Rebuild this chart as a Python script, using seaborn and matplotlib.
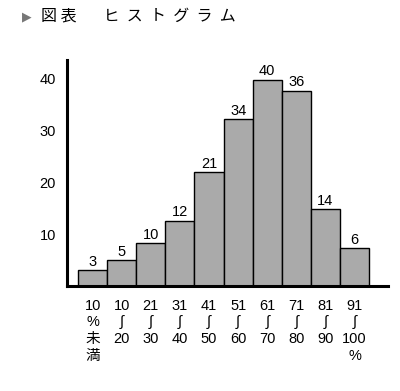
import matplotlib
matplotlib.use("Agg")
import matplotlib.pyplot as plt
import seaborn as sns
import pandas as pd

# data
categories = ["10\n%\n未\n満", "10\n∫\n20", "21\n∫\n30", "31\n∫\n40", "41\n∫\n50",
              "51\n∫\n60", "61\n∫\n70", "71\n∫\n80", "81\n∫\n90", "91\n∫\n100\n%"]
heights = [3.1, 5.0, 8.3, 12.6, 21.9, 32.1, 39.7, 37.6, 14.8, 7.3]
counts = [3, 5, 10, 12, 21, 34, 40, 36, 14, 6]
yticks = [10, 20, 30, 40]
title_mark = "▶"
title = "図 表\u3000   ヒ  ス  ト  グ  ラ  ム"

sns.set_theme(style="white")
fam = ["Liberation Sans", "DejaVu Sans", "Noto Sans CJK JP"]
plt.rcParams["font.family"] = fam

df = pd.DataFrame({"cat": categories, "h": heights})

fig = plt.figure(figsize=(4.0, 3.91), dpi=100)
ax = fig.add_axes([0.1675, 0.2685, 0.8025, 0.578])
sns.barplot(data=df, x="cat", y="h", width=1.0, color="#aaaaaa", saturation=1,
            edgecolor="black", linewidth=1.0, ax=ax)
ax.bar_label(ax.containers[0], labels=[str(c) for c in counts], padding=1,
             fontsize=10.5, color="black")

ax.set_xlim(-0.88, 10.15)
ax.set_ylim(0, 43.5)
ax.set_xlabel("")
ax.set_ylabel("")
ax.set_yticks(yticks)
ax.set_yticklabels([str(t) for t in yticks], fontsize=10.5)
ax.set_xticks(range(len(categories)))
ax.set_xticklabels(categories, fontsize=10.5, linespacing=1.25)
ax.tick_params(axis="y", direction="in", length=3, width=1, pad=8, colors="black")
ax.tick_params(axis="x", length=0, pad=9, colors="black")
for s in ["top", "right"]:
    ax.spines[s].set_visible(False)
for s in ["left", "bottom"]:
    ax.spines[s].set_color("black")
    ax.spines[s].set_linewidth(2.2)

fig.text(0.055, 0.958, title_mark, fontsize=9, va="center", ha="left", color="#777777",
         family=["DejaVu Sans"])
fig.text(0.103, 0.958, title, fontsize=11.5, va="center", ha="left", color="black",
         family=["Noto Sans CJK JP", "DejaVu Sans"])

fig.savefig("out.png", dpi=100, facecolor="white")
